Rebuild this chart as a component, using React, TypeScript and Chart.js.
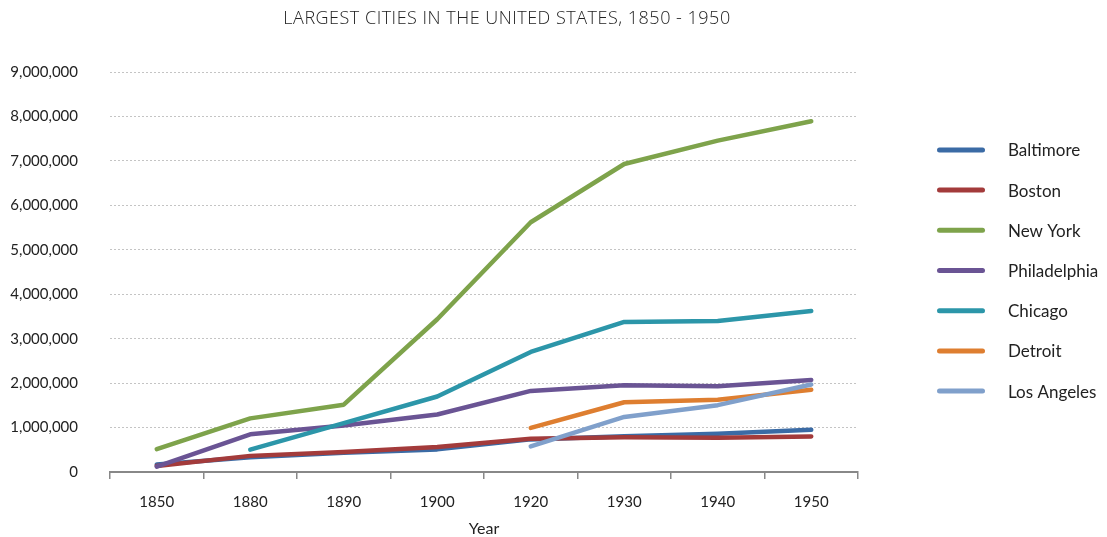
import React, { useEffect, useRef } from 'react';
import { Chart, registerables } from 'chart.js';

Chart.register(...registerables);

const chartTitle = 'LARGEST CITIES IN THE UNITED STATES, 1850 - 1950';
const xAxisTitle = 'Year';
const years = ['1850', '1880', '1890', '1900', '1920', '1930', '1940', '1950'];
const yTicks = [0, 1000000, 2000000, 3000000, 4000000, 5000000, 6000000, 7000000, 8000000, 9000000];

const cityNames = ['Baltimore', 'Boston', 'New York', 'Philadelphia', 'Chicago', 'Detroit', 'Los Angeles'];
const cityColors = ['#3b6ba5', '#a33b3b', '#7ea34b', '#6a5494', '#2c96a9', '#de7e30', '#80a0cb'];

const baltimore = [169054, 332313, 434439, 508957, 733826, 804874, 859100, 949708];
const boston = [136881, 362839, 448477, 560892, 748060, 781188, 770816, 801444];
const newYork = [515547, 1206299, 1515301, 3437202, 5620048, 6930446, 7454995, 7891957];
const philadelphia = [121376, 847170, 1046964, 1293697, 1823779, 1950961, 1931334, 2071605];
const chicago = [null, 503185, 1099850, 1698575, 2701705, 3376438, 3396808, 3620962];
const detroit = [null, null, null, null, 993078, 1568662, 1623452, 1849568];
const losAngeles = [null, null, null, null, 576673, 1238048, 1504277, 1970358];

const seriesValues = [baltimore, boston, newYork, philadelphia, chicago, detroit, losAngeles];

const FONT = 'Lato, "Noto Sans", sans-serif';
const TEXT = '#222222';

const overlayPlugin = {
  id: 'overlayTitleLegend',
  afterDraw(chart: any) {
    const ctx = chart.ctx;
    const area = chart.chartArea;
    ctx.save();
    // title
    ctx.font = '300 18px "Open Sans", sans-serif';
    (ctx as any).letterSpacing = '0.5px';
    ctx.fillStyle = TEXT;
    ctx.textAlign = 'center';
    ctx.textBaseline = 'middle';
    ctx.fillText(chartTitle, 507, 19);
    (ctx as any).letterSpacing = '0px';
    // legend
    const lineX = area.right + 79;
    const lineW = 48;
    const textX = lineX + 71;
    const step = 40.2;
    const mid = (area.top + area.bottom) / 2 - 1.5;
    const n = chart.data.datasets.length;
    const startY = mid - ((n - 1) / 2) * step;
    ctx.font = '17px ' + FONT;
    ctx.textAlign = 'left';
    chart.data.datasets.forEach((ds: any, i: number) => {
      const y = startY + i * step;
      ctx.strokeStyle = ds.borderColor;
      ctx.lineWidth = 5;
      ctx.lineCap = 'round';
      ctx.beginPath();
      ctx.moveTo(lineX + 2.5, y);
      ctx.lineTo(lineX + lineW - 2.5, y);
      ctx.stroke();
      ctx.fillStyle = TEXT;
      ctx.fillText(ds.label, textX, y + 1);
    });
    ctx.restore();
  },
};

export default function App() {
  const canvasRef = useRef<HTMLCanvasElement | null>(null);

  useEffect(() => {
    document.body.style.margin = '0';
    const canvas = canvasRef.current;
    if (!canvas) return;
    const chart = new Chart(canvas, {
      type: 'line',
      data: {
        labels: years,
        datasets: cityNames.map((name, i) => ({
          label: name,
          data: seriesValues[i],
          borderColor: cityColors[i],
          backgroundColor: cityColors[i],
          borderWidth: 4.5,
          borderCapStyle: 'round',
          borderJoinStyle: 'round',
          pointRadius: 0,
          pointHoverRadius: 0,
          tension: 0,
          fill: false,
          order: -i,
        })),
      },
      options: {
        animation: false,
        responsive: true,
        maintainAspectRatio: false,
        layout: { padding: { top: 72, right: 249, left: 10, bottom: 0 } },
        plugins: {
          legend: { display: false },
          title: { display: false },
          tooltip: { enabled: false },
        },
        scales: {
          x: {
            type: 'category',
            offset: true,
            afterFit: (scale: any) => {
              scale.height = 65;
            },
            grid: {
              display: true,
              drawOnChartArea: false,
              drawTicks: true,
              tickLength: 7,
              color: '#888888',
              lineWidth: 1.5,
              offset: true,
            },
            border: { display: true, color: '#888888', width: 2 },
            ticks: { padding: 14, color: TEXT, font: { family: FONT, size: 15 } },
            title: {
              display: true,
              text: xAxisTitle,
              color: TEXT,
              font: { family: FONT, size: 16 },
              padding: { top: 0, bottom: -1 },
            },
          },
          y: {
            min: yTicks[0],
            max: yTicks[yTicks.length - 1],
            afterFit: (scale: any) => {
              scale.width = 100;
            },
            afterBuildTicks: (scale: any) => {
              scale.ticks = yTicks.map((v) => ({ value: v }));
            },
            ticks: {
              padding: 32,
              color: TEXT,
              font: { family: FONT, size: 15 },
              callback: (v: any) => Number(v).toLocaleString('en-US'),
            },
            grid: { color: '#c4c4c4', lineWidth: 1, drawTicks: false },
            border: { display: false, dash: [2, 2] },
          },
        },
      },
      plugins: [overlayPlugin],
    } as any);
    return () => chart.destroy();
  }, []);

  return (
    <div style={{ width: '1107px', height: '537px', position: 'relative' }}>
      <canvas ref={canvasRef} />
    </div>
  );
}
